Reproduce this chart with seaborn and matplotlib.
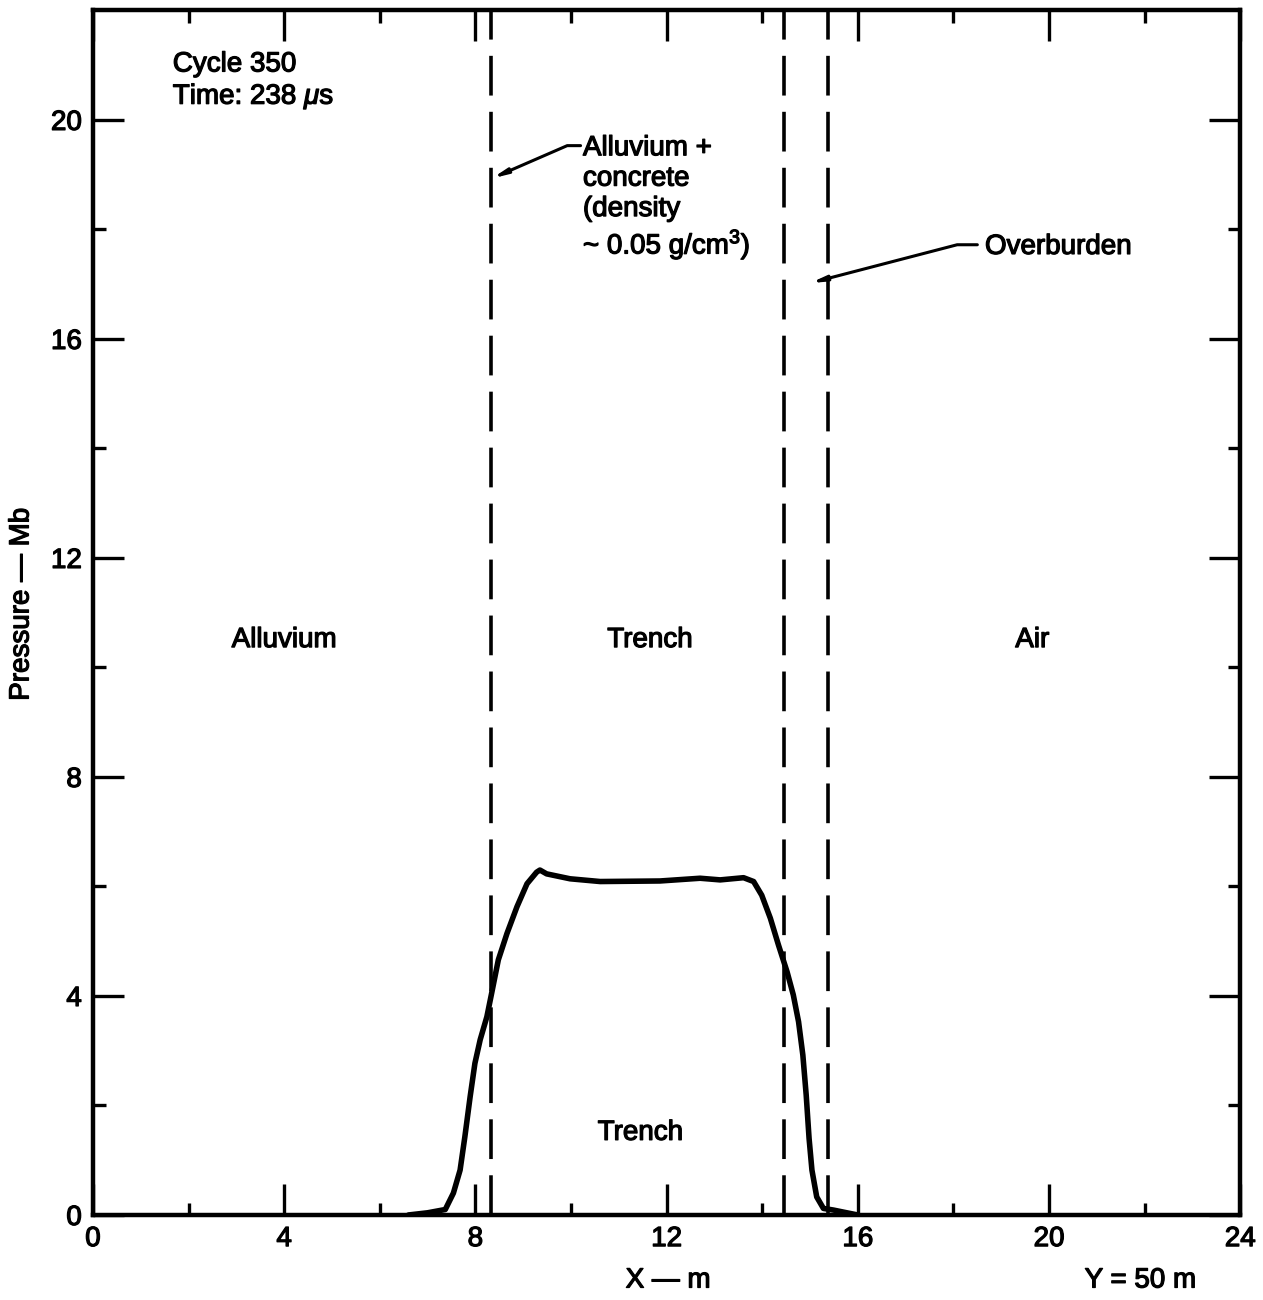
import numpy as np
import pandas as pd
import matplotlib
matplotlib.use("Agg")
import matplotlib.pyplot as plt
import matplotlib.patheffects as pe
import seaborn as sns

# pressure profile (x in m, pressure in Mb)
x_m = [6.6, 7.0, 7.37, 7.54, 7.68, 7.78, 7.89, 7.99, 8.10, 8.24, 8.34, 8.48,
       8.66, 8.87, 9.08, 9.28, 9.35, 9.49, 9.98, 10.61, 11.86, 12.70, 13.12,
       13.61, 13.82, 13.99, 14.17, 14.34, 14.52, 14.65, 14.76, 14.85, 14.92,
       14.98, 15.04, 15.14, 15.28, 15.49, 15.77, 16.0]
pressure_mb = [0.0, 0.04, 0.10, 0.40, 0.82, 1.43, 2.16, 2.77, 3.20, 3.62,
               4.05, 4.66, 5.14, 5.63, 6.05, 6.26, 6.30, 6.23, 6.14, 6.09,
               6.10, 6.15, 6.12, 6.16, 6.09, 5.84, 5.42, 4.93, 4.44, 4.02,
               3.53, 2.92, 2.19, 1.40, 0.82, 0.33, 0.12, 0.09, 0.04, 0.0]

# material boundaries (dashed)
boundaries = [8.32, 14.46, 15.38]

# region labels
region_names = ["Alluvium", "Trench", "Air", "Trench"]
region_x = [4.0, 11.65, 19.65, 11.45]
region_y = [10.5, 10.5, 10.5, 1.5]

df = pd.DataFrame({"x": x_m, "p": pressure_mb})

sns.set_style("ticks")
plt.rcParams["font.family"] = ["Liberation Sans", "DejaVu Sans"]
plt.rcParams["mathtext.fontset"] = "custom"
plt.rcParams["mathtext.rm"] = "Liberation Sans"
plt.rcParams["mathtext.it"] = "Liberation Sans:italic"
for k in ["text.color", "axes.labelcolor", "xtick.color", "ytick.color"]:
    plt.rcParams[k] = "black"
fs = 20
heavy = [pe.withStroke(linewidth=0.9, foreground="black")]

fig = plt.figure(figsize=(12.63, 13), dpi=100)
ax = fig.add_axes([0.0736, 0.0654, 0.9084, 0.9266])

sns.lineplot(data=df, x="x", y="p", ax=ax, color="black", linewidth=4.0,
             solid_joinstyle="round", solid_capstyle="round")

for b in boundaries:
    ax.axvline(b, color="black", linewidth=2.6, dashes=(11, 4.5))

ax.set_xlim(0, 24)
ax.set_ylim(0, 22)
ax.set_xticks(np.arange(0, 25, 4))
ax.set_xticks(np.arange(0, 25, 2), minor=True)
ax.set_yticks(np.arange(0, 21, 4))
ax.set_yticks(np.arange(0, 22, 2), minor=True)
ax.tick_params(which="both", direction="in", top=True, right=True,
               labelsize=fs, width=2.4, color="black")
ax.tick_params(which="major", length=22, pad=8)
ax.tick_params(which="minor", length=9)
for s in ax.spines.values():
    s.set_linewidth(3.2)
    s.set_color("black")
ax.set_xlabel("")
ax.set_ylabel("")
for lab in ax.get_xticklabels() + ax.get_yticklabels():
    lab.set_path_effects(heavy)

for name, rx, ry in zip(region_names, region_x, region_y):
    ax.text(rx, ry, name, ha="center", va="center", fontsize=fs,
            path_effects=heavy)

ax.text(1.67, 21.25, "Cycle 350\nTime: 238 $\\mu$s", ha="left", va="top",
        fontsize=fs, linespacing=1.2, path_effects=heavy)

arrow = dict(arrowstyle="-|>,head_length=0.8,head_width=0.14", color="black",
             lw=2.2, shrinkA=0, shrinkB=0)

ax.text(10.25, 19.72, "Alluvium +\nconcrete\n(density\n~ 0.05 g/cm$^3$)",
        ha="left", va="top", fontsize=fs, linespacing=1.22,
        path_effects=heavy)
ax.annotate("", xy=(8.34, 18.93), xytext=(10.2, 19.53),
            arrowprops=dict(arrow, connectionstyle="angle,angleA=0,angleB=23.5,rad=0"))

ax.text(18.66, 17.68, "Overburden", ha="left", va="center", fontsize=fs,
        path_effects=heavy)
ax.annotate("", xy=(15.0, 17.02), xytext=(18.5, 17.72),
            arrowprops=dict(arrow, connectionstyle="angle,angleA=0,angleB=14.6,rad=0"))

fig.text(0.017, 0.535, "Pressure — Mb", rotation=90, ha="center", va="center",
         fontsize=fs, path_effects=heavy)
fig.text(0.529, 0.015, "X — m", ha="center", va="center", fontsize=fs,
         path_effects=heavy)
fig.text(0.903, 0.015, "Y = 50 m", ha="center", va="center", fontsize=fs,
         path_effects=heavy)

fig.savefig("out.png", dpi=100)
